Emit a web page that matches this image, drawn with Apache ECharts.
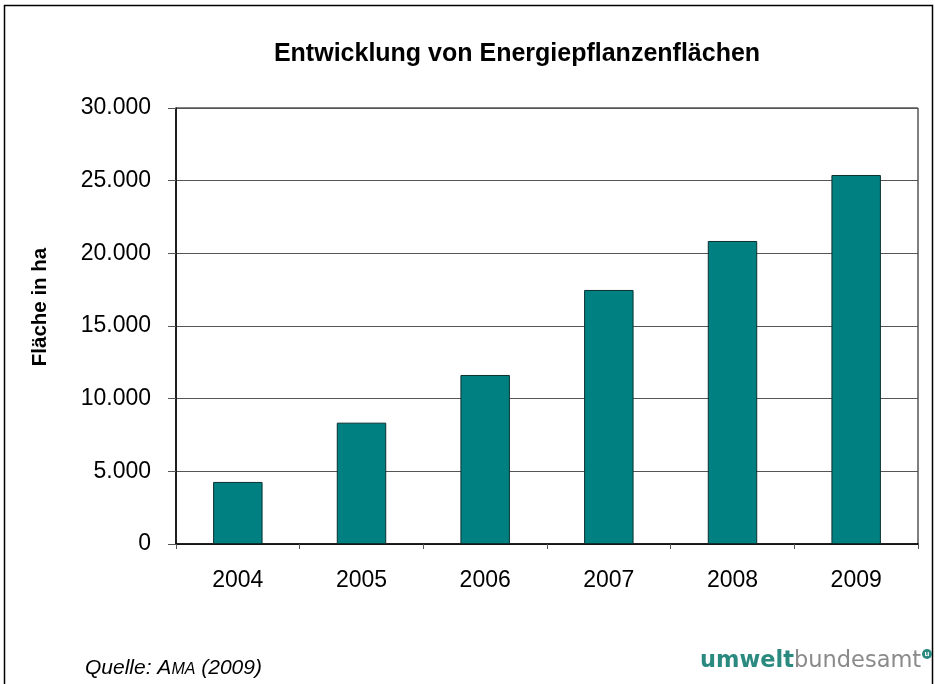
<!DOCTYPE html>
<html>
<head>
<meta charset="utf-8">
<script src="https://cdn.jsdelivr.net/npm/echarts@6/dist/echarts.min.js"></script>
<style>
  html, body { margin: 0; padding: 0; background: #fff; }
  #main { width: 935px; height: 684px; }
</style>
</head>
<body>
<div id="main"></div>
<script>
  // Daten
  var jahre = ['2004', '2005', '2006', '2007', '2008', '2009'];
  var flaeche = [4270, 8350, 11630, 17480, 20850, 25390];
  var yTicks = [0, 5000, 10000, 15000, 20000, 25000, 30000];

  var chart = echarts.init(document.getElementById('main'));
  var font = 'Liberation Sans, Arial, sans-serif';

  // Tausenderpunkt
  function fmt(v) {
    return String(v).replace(/\B(?=(\d{3})+(?!\d))/g, '.');
  }

  // Textbreite messen (für Kapitälchen in der Quellenangabe)
  var ctx = document.createElement('canvas').getContext('2d');
  function breite(txt, size) {
    ctx.font = 'italic ' + size + 'px ' + font;
    return ctx.measureText(txt).width;
  }
  var q1 = 'Quelle: A', q2 = 'MA', q3 = ' (2009)';
  var qx = 85, qy = 674; // Grundlinie
  var x2 = qx + breite(q1, 21);
  var x3 = x2 + breite(q2, 16);

  function quelle(txt, x, size) {
    return {
      type: 'text', x: x, y: qy + 0.212 * size,
      style: { text: txt, fontFamily: font, fontSize: size, fontStyle: 'italic', fill: '#000', verticalAlign: 'bottom' }
    };
  }

  var option = {
    backgroundColor: '#fff',
    animation: false,
    title: {
      text: 'Entwicklung von Energiepflanzenflächen',
      left: 512,
      textAlign: 'center',
      top: 37,
      textStyle: { fontFamily: font, fontSize: 25, fontWeight: 'bold', color: '#000' }
    },
    grid: {
      left: 176, right: 17, top: 108, bottom: 140,
      show: true, borderColor: '#000', borderWidth: 1
    },
    xAxis: {
      type: 'category',
      data: jahre,
      axisLine: { lineStyle: { color: '#000', width: 1.5 } },
      axisTick: { show: true, length: 5, lineStyle: { color: '#555' } },
      axisLabel: { fontFamily: font, fontSize: 23, color: '#000', margin: 25 }
    },
    yAxis: {
      type: 'value',
      min: yTicks[0],
      max: yTicks[yTicks.length - 1],
      interval: 5000,
      axisLine: { show: true, lineStyle: { color: '#000', width: 1.5 } },
      axisTick: { show: true, length: 8, lineStyle: { color: '#555' } },
      axisLabel: { fontFamily: font, fontSize: 23, color: '#000', margin: 25, formatter: fmt },
      splitLine: { lineStyle: { color: '#555', width: 1 } }
    },
    series: [{
      type: 'bar',
      data: flaeche,
      barWidth: '40%',
      itemStyle: { color: '#008080', borderColor: '#0b3030', borderWidth: 1 }
    }],
    graphic: [
      {
        type: 'rect',
        shape: { x: 4.5, y: 5.5, width: 928, height: 720 },
        style: { fill: 'none', stroke: '#000', lineWidth: 1.5 },
        silent: true
      },
      {
        // Achsentitel
        type: 'text',
        x: 40, y: 307,
        rotation: Math.PI / 2,
        style: {
          text: 'Fläche in ha',
          fontFamily: font, fontSize: 20.5, fontWeight: 'bold', fill: '#000',
          align: 'center', verticalAlign: 'middle'
        }
      },
      quelle(q1, qx, 21),
      quelle(q2, x2, 16),
      quelle(q3, x3, 21),
      {
        type: 'text',
        x: 700, y: 673,
        style: {
          text: '{a|umwelt}{b|bundesamt}',
          verticalAlign: 'bottom',
          rich: {
            a: { fontFamily: 'DejaVu Sans, sans-serif', fontSize: 22.5, fontWeight: 'bold', fill: '#2a8a80' },
            b: { fontFamily: 'DejaVu Sans, sans-serif', fontSize: 22.5, fill: '#8a8a8a' }
          }
        }
      },
      {
        type: 'circle',
        shape: { cx: 927, cy: 654, r: 5 },
        style: { fill: '#2a8a80' }
      },
      {
        type: 'text',
        x: 927, y: 654,
        style: { text: 'u', fill: '#fff', fontSize: 8, fontWeight: 'bold', align: 'center', verticalAlign: 'middle', fontFamily: font }
      }
    ]
  };

  chart.setOption(option);
</script>
</body>
</html>
